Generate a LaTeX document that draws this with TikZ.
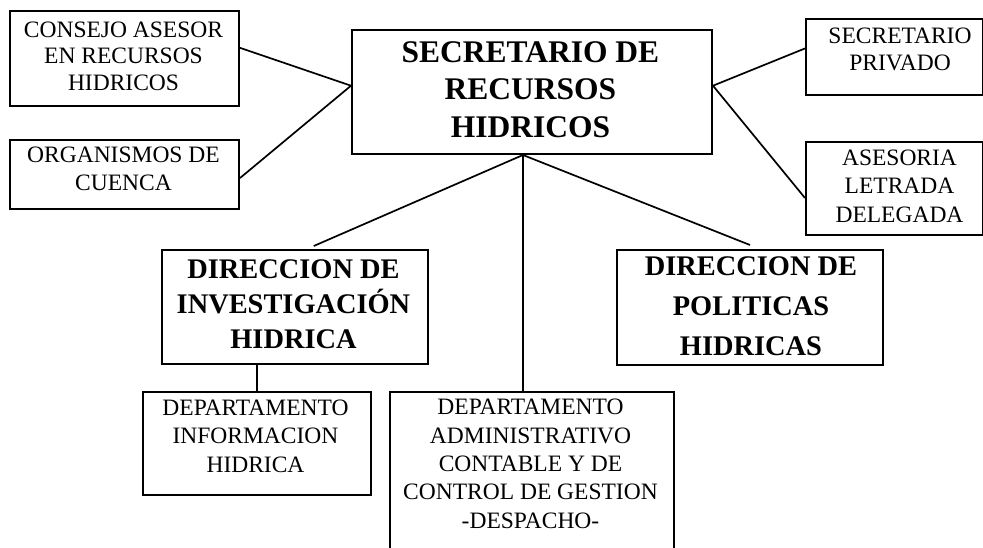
\documentclass[tikz,border=0pt]{standalone}
\usepackage{fontspec}
\setmainfont{Liberation Serif}
\usetikzlibrary{calc}
\begin{document}
\begin{tikzpicture}[x=1pt,y=-1pt,
  box/.style={draw,line width=2pt,rectangle,inner sep=0pt,anchor=north west},
  conn/.style={line width=1.7pt},
  smalltxt/.style={align=center,inner sep=0pt,anchor=base,font=\fontsize{23.5}{27.5}\selectfont},
  bigtxt/.style={align=center,inner sep=0pt,anchor=base,font=\bfseries\fontsize{31.5}{37.5}\selectfont},
  dirtxt/.style={align=center,inner sep=0pt,anchor=base,font=\bfseries\fontsize{28.4}{37}\selectfont}]
\useasboundingbox (0,0) rectangle (983,547);
\clip (0,0) rectangle (983,547);
% boxes
\node[box,minimum width=229pt,minimum height=95pt] (consejo) at (9,10) {};
\node[box,minimum width=229pt,minimum height=69pt] (organismos) at (9,139) {};
\node[box,minimum width=360pt,minimum height=124pt] (main) at (351,29) {};
\node[box,minimum width=177pt,minimum height=76pt] (secpriv) at (805,18) {};
\node[box,minimum width=177pt,minimum height=93pt] (asesoria) at (805,141) {};
\node[box,minimum width=266pt,minimum height=114pt] (dirinv) at (161,249) {};
\node[box,minimum width=266pt,minimum height=115pt] (dirpol) at (616,249) {};
\node[box,minimum width=228pt,minimum height=103pt] (info) at (142,391) {};
\node[box,minimum width=284pt,minimum height=175pt] (admin) at (389,391) {};
% texts (anchored at the baseline of the last line)
\node[smalltxt,font=\fontsize{23.5}{26.5}\selectfont] (tconsejo) at (123.5,90) {CONSEJO ASESOR\\EN RECURSOS\\HIDRICOS};
\node[smalltxt,font=\fontsize{23.5}{28}\selectfont] (torganismos) at (123.5,190) {ORGANISMOS DE\\CUENCA};
\node[bigtxt] (tmain) at (530.5,137) {SECRETARIO DE\\RECURSOS\\HIDRICOS};
\node[smalltxt,font=\fontsize{23.5}{27}\selectfont] (tsecpriv) at (900,70) {SECRETARIO\\PRIVADO};
\node[smalltxt,font=\fontsize{23.5}{28.5}\selectfont] (tasesoria) at (899.5,222) {ASESORIA\\LETRADA\\DELEGADA};
\node[dirtxt,font=\bfseries\fontsize{28.4}{35}\selectfont] (tdirinv) at (293.5,348) {DIRECCION DE\\INVESTIGACIÓN\\HIDRICA};
\node[dirtxt,font=\bfseries\fontsize{28.4}{40}\selectfont] (tdirpol) at (751,355) {DIRECCION DE\\POLITICAS\\HIDRICAS};
\node[smalltxt,font=\fontsize{23.5}{28.5}\selectfont] (tinfo) at (255.5,472) {DEPARTAMENTO\\INFORMACION\\HIDRICA};
\node[smalltxt,font=\fontsize{23.5}{28.3}\selectfont] (tadmin) at (530.5,528) {DEPARTAMENTO\\ADMINISTRATIVO\\CONTABLE Y DE\\CONTROL DE GESTION\\-DESPACHO-};
% connectors
\coordinate (mL) at ($(main.north west)!0.45!(main.south west)$);
\coordinate (mR) at ($(main.north east)!0.45!(main.south east)$);
\coordinate (mB) at ($(main.south west)!0.475!(main.south east)$);
\draw[conn] ($(consejo.north east)!0.39!(consejo.south east)$) -- (mL);
\draw[conn] ($(organismos.north east)!0.55!(organismos.south east)$) -- (mL);
\draw[conn] (mR) -- ($(secpriv.north west)!0.39!(secpriv.south west)$);
\draw[conn] (mR) -- ($(asesoria.north west)!0.6!(asesoria.south west)$);
\draw[conn] (mB) -- ($(dirinv.north west)!0.57!(dirinv.north east)+(0,-3)$);
\draw[conn] (mB) -- ($(dirpol.north)+(0,-4)$);
\draw[conn] (mB) -- (mB |- admin.north);
\draw[conn] (info.north) -- (info.north |- dirinv.south);
\end{tikzpicture}
\end{document}
